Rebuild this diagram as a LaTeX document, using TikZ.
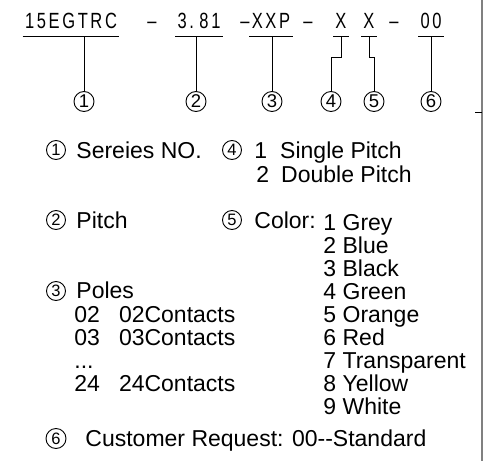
\documentclass[tikz,border=0pt]{standalone}
\usepackage{fontspec}
\setmainfont{Liberation Sans}
\newfontfamily\codefont[FakeStretch=0.75,LetterSpace=12]{Liberation Sans}

\begin{document}
\begin{tikzpicture}[x=1pt, y=-1pt, line width=0.9pt,
      code/.style = {anchor=base, inner xsep=2pt, inner ysep=8pt, text depth=0pt,
        font=\codefont\fontsize{22}{24}\selectfont},
      hyph/.style = {anchor=base, inner sep=0pt,
        font=\codefont\fontsize{22}{24}\selectfont},
      num/.style = {circle, draw, inner sep=0pt, minimum size=20pt,
        font=\fontsize{18.5}{18.5}\selectfont},
      smallnum/.style = {num, minimum size=19pt, font=\fontsize{16.5}{16.5}\selectfont},
      txt/.style = {anchor=base west, inner sep=0pt,
        font=\fontsize{23}{24}\selectfont}]
  \useasboundingbox (0,0) rectangle (483,461);

  % part number
  \node[code] (s1) at (71,28) {15EGTRC};
  \node[hyph] (m1) at (152,28) {\textendash};
  \node[code] (s2) at (199,28) {3.\hspace{0.25em}81};
  \node[hyph] (m2) at (245,28) {\textendash};
  \node[code] (s3) at (271,28) {XXP};
  \node[hyph] (m3) at (308,28) {\textendash};
  \node[code] (s4) at (341,28) {X};
  \node[code] (s5) at (369,28) {X};
  \node[hyph] (m4) at (394,28) {\textendash};
  \node[code] (s6) at (431,28) {00};

  \foreach \s in {s1,s2,s3,s4,s5,s6}
    \draw (\s.south west) -- (\s.south east);

  % position markers
  \node[num] (c1) at (84,101.5) {1};
  \node[num] (c2) at (196,101.5) {2};
  \node[num] (c3) at (272,101.5) {3};
  \node[num] (c4) at (331,101.5) {4};
  \node[num] (c5) at (374,101.5) {5};
  \node[num] (c6) at (431,101.5) {6};

  \draw (c1) -- (c1 |- s1.south);
  \draw (c2) -- (c2 |- s2.south);
  \draw (c3) -- (c3 |- s3.south);
  \draw (s4.south) -- ++(0,21) -| (c4);
  \draw (s5.south) -- ++(0,21) -| (c5);
  \draw (c6) -- (c6 |- s6.south);

  % legend
  \node[smallnum] (n1) at (56,150) {1};
  \node[txt] (t1) at (76,158) {Sereies NO.};
  \node[smallnum] (n4) at (232,150) {4};
  \node[txt] (t4a) at (254,158) {1\hspace{13pt}Single Pitch};
  \node[txt] (t4b) at (256,182) {2\hspace{12pt}Double Pitch};

  \node[smallnum] (n2) at (56,220) {2};
  \node[txt] (t2) at (76,228) {Pitch};
  \node[smallnum] (n5) at (232,220) {5};
  \node[txt] (t5) at (254,228) {Color:};
  \node[txt] (k1) at (323,230) {1 Grey};
  \node[txt] (k2) at (323,253) {2 Blue};
  \node[txt] (k3) at (323,276) {3 Black};
  \node[txt] (k4) at (323,299) {4 Green};
  \node[txt] (k5) at (323,322) {5 Orange};
  \node[txt] (k6) at (323,345) {6 Red};
  \node[txt] (k7) at (323,368) {7 Transparent};
  \node[txt] (k8) at (323,391) {8 Yellow};
  \node[txt] (k9) at (323,414) {9 White};

  \node[smallnum] (n3) at (56,291) {3};
  \node[txt] (t3) at (76,298) {Poles};
  \node[txt] (p1) at (74,322) {02\hspace{19pt}02Contacts};
  \node[txt] (p2) at (74,345) {03\hspace{19pt}03Contacts};
  \node[txt] (p3) at (74,368) {...};
  \node[txt] (p4) at (74,391) {24\hspace{19pt}24Contacts};

  \node[num, minimum size=20pt, font=\fontsize{16.5}{16.5}\selectfont] (n6) at (56,438.5) {6};
  \node[txt] (t6) at (85,446) {Customer Request: 00-{}-Standard};

  % right edge
  \draw[gray, line width=1.5pt] (482,0) -- (482,461);
  \draw (475,112) -- (482,112);
\end{tikzpicture}
\end{document}
